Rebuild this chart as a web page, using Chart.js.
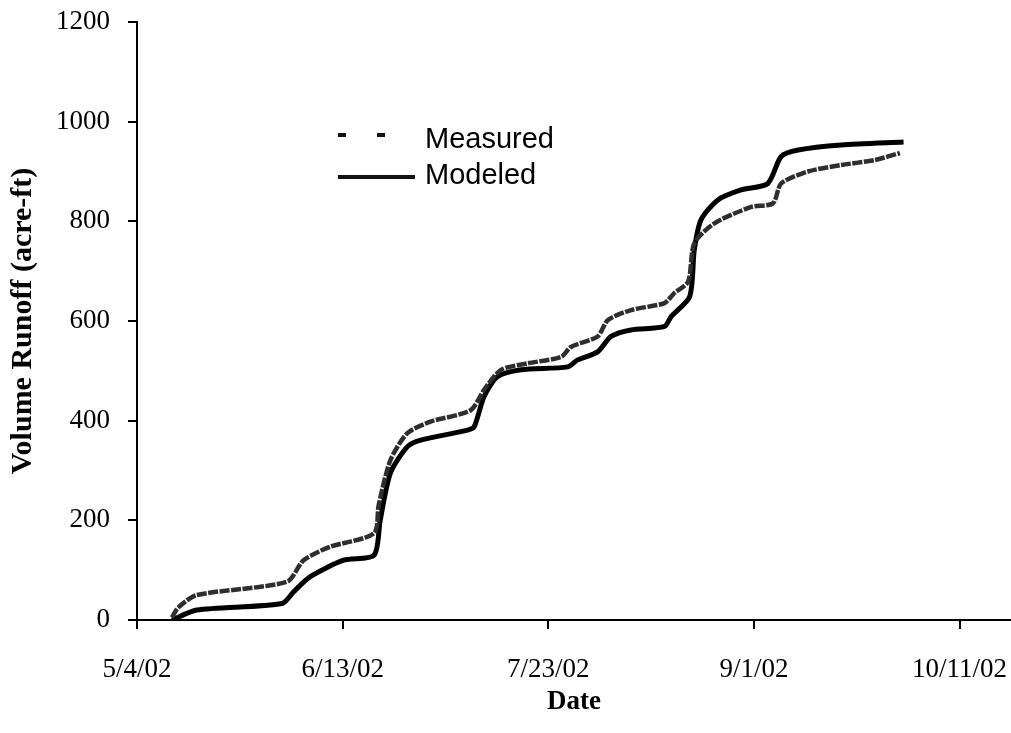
<!DOCTYPE html>
<html>
<head>
<meta charset="utf-8">
<title>Volume Runoff</title>
<script src="https://cdn.jsdelivr.net/npm/chart.js@4/dist/chart.umd.min.js"></script>
<style>
  html, body { margin: 0; padding: 0; background: #fff; }
  canvas { display: block; }
</style>
</head>
<body>
<canvas id="chart" width="1011" height="733"></canvas>
<script>
// days counted from 5/4/02
const tickDays = [0, 40, 80, 120, 160];
const tickLabels = ['5/4/02', '6/13/02', '7/23/02', '9/1/02', '10/11/02'];

const measuredDays = [6.8, 8, 11.6, 29.2, 32.4, 37.6, 46.1, 47, 49.3, 52.6, 57.1, 64.9, 67.5, 70.8,
  76.0, 82.5, 84.4, 89.6, 91.6, 96.1, 102.6, 104.5, 107.2, 108.4, 112.3, 119.5, 123.7, 125.3,
  130.5, 137.0, 143.5, 148.4];
const measuredValues = [5, 25, 50, 77, 120, 147, 174, 230, 321, 375, 398, 421, 462, 502,
  515, 528, 548, 569, 602, 622, 636, 656, 679, 756, 796, 829, 836, 876,
  900, 913, 923, 937];

const modeledDays = [6.8, 11.6, 28.2, 30.5, 33.7, 40.2, 46.1, 47.3, 49.3, 52.6, 55.2, 64.3, 65.6,
  67.5, 70.1, 74.7, 83.8, 85.7, 89.6, 92.2, 96.1, 102.6, 103.9, 107.5, 108.4, 109.7, 113.0,
  117.5, 122.7, 125.3, 128.6, 137.0, 149.1];
const modeledValues = [0, 20, 33, 57, 87, 120, 130, 200, 295, 348, 361, 381, 388,
  448, 488, 502, 508, 522, 538, 569, 582, 589, 609, 649, 743, 803, 843,
  863, 876, 930, 943, 953, 959];

const toPoints = (xs, ys) => xs.map((x, i) => ({ x: x, y: ys[i] }));

const serif = "'Liberation Serif', 'Times New Roman', serif";
const sans = "'Liberation Sans', Arial, sans-serif";

// legend drawn inside the plot area
const innerLegend = {
  id: 'innerLegend',
  afterDatasetsDraw(chart) {
    const ctx = chart.ctx;
    const a = chart.chartArea;
    const x0 = a.left + 201, x1 = a.left + 278, tx = a.left + 288;
    const rows = [
      { y: a.top + 113, text: 'Measured', dash: [8, 31], base: a.top + 126 },
      { y: a.top + 155, text: 'Modeled', dash: [], base: a.top + 162 }
    ];
    ctx.save();
    ctx.strokeStyle = '#111';
    ctx.lineWidth = 4;
    ctx.fillStyle = '#000';
    ctx.font = '29px ' + sans;
    ctx.textBaseline = 'alphabetic';
    rows.forEach(r => {
      ctx.setLineDash(r.dash);
      ctx.beginPath();
      ctx.moveTo(x0, r.y);
      ctx.lineTo(x1, r.y);
      ctx.stroke();
      ctx.fillText(r.text, tx, r.base);
    });
    ctx.restore();
  }
};

const ctx = document.getElementById('chart').getContext('2d');
new Chart(ctx, {
  type: 'line',
  data: {
    datasets: [
      {
        label: 'Measured',
        data: toPoints(measuredDays, measuredValues),
        borderColor: '#2e2e2e',
        borderWidth: 4.5,
        borderDash: [10, 1.5],
        pointRadius: 0,
        tension: 0.25
      },
      {
        label: 'Modeled',
        data: toPoints(modeledDays, modeledValues),
        borderColor: '#000',
        borderWidth: 5,
        pointRadius: 0,
        tension: 0.25
      }
    ]
  },
  options: {
    responsive: false,
    animation: false,
    devicePixelRatio: 1,
    layout: { padding: { top: 22, right: 0, bottom: 15, left: 0 } },
    plugins: { legend: { display: false }, tooltip: { enabled: false } },
    scales: {
      x: {
        type: 'linear',
        min: 0,
        max: 170,
        afterBuildTicks: s => { s.ticks = tickDays.map(v => ({ value: v })); },
        afterFit: s => { s.height = 98; s.paddingLeft = 0; s.paddingRight = 0; },
        border: { color: '#000', width: 2 },
        grid: { drawOnChartArea: false, color: '#000', tickLength: 9, lineWidth: 2 },
        ticks: {
          color: '#000',
          font: { family: serif, size: 27 },
          padding: 25,
          maxRotation: 0,
          callback: v => tickLabels[tickDays.indexOf(v)]
        },
        title: {
          display: true,
          text: 'Date',
          color: '#000',
          font: { family: serif, size: 27, weight: 'bold' },
          padding: { top: 0, bottom: 0 }
        }
      },
      y: {
        min: 0,
        max: 1200,
        afterFit: s => { s.width = 137; s.paddingTop = 0; s.paddingBottom = 0; },
        border: { color: '#000', width: 2 },
        grid: { drawOnChartArea: false, color: '#000', tickLength: 9, lineWidth: 2 },
        ticks: {
          stepSize: 200,
          color: '#000',
          font: { family: serif, size: 27 },
          padding: 18,
          callback: v => String(v)
        },
        title: {
          display: true,
          text: 'Volume Runoff (acre-ft)',
          color: '#000',
          font: { family: serif, size: 30, weight: 'bold' },
          padding: { top: 5, bottom: 0 }
        }
      }
    }
  },
  plugins: [innerLegend]
});
</script>
</body>
</html>
